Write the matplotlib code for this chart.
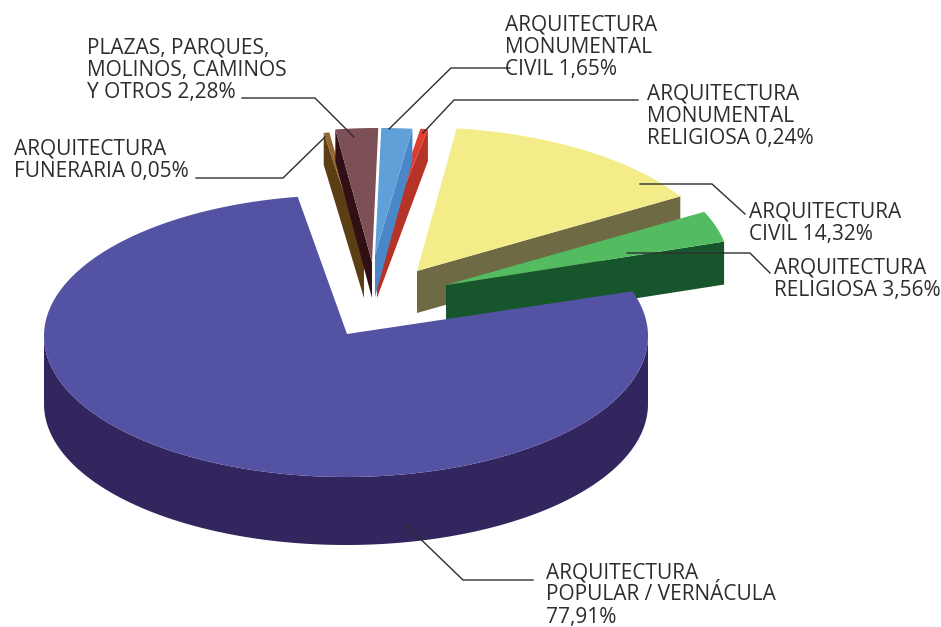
import numpy as np
import matplotlib
matplotlib.use("Agg")
import matplotlib.pyplot as plt

plt.rcParams['font.family'] = ['Open Sans', 'DejaVu Sans']

# slices, anticlockwise starting at the right edge of the big one
names = ["ARQUITECTURA\nRELIGIOSA", "ARQUITECTURA\nCIVIL", "ARQUITECTURA\nMONUMENTAL\nRELIGIOSA",
         "ARQUITECTURA\nMONUMENTAL\nCIVIL", "PLAZAS, PARQUES,\nMOLINOS, CAMINOS\nY OTROS",
         "ARQUITECTURA\nFUNERARIA", "ARQUITECTURA\nPOPULAR / VERNÁCULA\n"]
labelled = [3.56, 14.32, 0.24, 1.65, 2.28, 0.05, 77.91]
# the two tiniest are drawn wider than their printed value
drawn = [3.56, 14.32, 0.40, 1.65, 2.28, 0.30, 77.91]

top_colors = ["#53bc61", "#f3ec89", "#e23b30", "#60a0d8", "#7c5056", "#946530", "#5452a3"]
side_colors = ["#17562d", "#6e6a44", "#b53327", "#4a87c8", "#301015", "#5c3e15", "#33265f"]

# placement of each exploded slice, in pixels
apex_x = [446, 417, 377, 375, 372, 364, 347]
apex_y = [285, 271, 255, 255, 262, 253, 334]
arc_x = [446, 417, 389, 381, 378, 372, 346]
arc_y = [285, 271, 269, 269, 269, 272, 336]
scale_start = [0.971, 1.02, 1, 1, 1, 1, 1]
scale_end = [1.0, 1.02, 1, 1, 1, 1, 1]
depth_apex = [43, 42, 43, 42, 36, 45, 68]
depth_rim = [43, 42, 32, 32, 32, 32, 68]

label_x = [774, 749, 647, 505, 87, 14, 546]
label_y = [268, 212, 94, 25, 48, 149, 572.5]

leaders = [
    ([627, 750, 770], [253, 253, 273]),
    ([640, 712, 745], [184, 184, 214]),
    ([638, 454, 423], [100, 100, 133]),
    ([510, 451, 389], [68, 68, 129]),
    ([242, 315, 354], [98, 98, 137]),
    ([196, 283, 325], [178, 178, 137]),
    ([405, 463, 533], [524, 580, 580]),
]

RX, RY = 302, 141
START = 18.5

fig = plt.figure(figsize=(9.41, 6.27), dpi=100)
ax = fig.add_axes([0, 0, 1, 1])
ax.set_xlim(0, 941)
ax.set_ylim(627, 0)
ax.axis('off')

spans = np.array(drawn) * 360 / sum(drawn)
starts = START + np.concatenate([[0], np.cumsum(spans)[:-1]])


def rim(i, t0, t1, s0=1.0, s1=1.0):
    n = max(int(abs(t1 - t0)) * 2, 2)
    t = np.radians(np.linspace(t0, t1, n))
    s = np.linspace(s0, s1, n)
    return arc_x[i] + s * RX * np.cos(t), arc_y[i] - s * RY * np.sin(t)


def draw_slice(i):
    t0, t1 = starts[i], starts[i] + spans[i]
    if spans[i] > 180:
        # big slice, only the front of the wall shows
        x, y = rim(i, 180, 360)
        ax.fill(np.r_[x, x[::-1]], np.r_[y, y[::-1] + depth_rim[i]],
                color=side_colors[i], lw=0)
    else:
        if (t0 + t1) / 2 < 90:
            x, y = rim(i, t0, t0, scale_start[i], scale_start[i])
        else:
            x, y = rim(i, t1, t1, scale_end[i], scale_end[i])
        ax.fill([apex_x[i], x[0], x[0], apex_x[i]],
                [apex_y[i], y[0], y[0] + depth_rim[i], apex_y[i] + depth_apex[i]],
                color=side_colors[i], lw=0)
    x, y = rim(i, t0, t1, scale_start[i], scale_end[i])
    ax.fill(np.r_[apex_x[i], x], np.r_[apex_y[i], y], color=top_colors[i], lw=0)


for i in [5, 4, 2, 3, 1, 0, 6]:
    draw_slice(i)

for lx, ly in leaders:
    ax.plot(lx, ly, color="#2f2c2d", lw=1.0, solid_joinstyle='miter')

for i, name in enumerate(names):
    pct = f"{labelled[i]:.2f}".replace(".", ",") + "%"
    text = name + pct if name.endswith("\n") else name + " " + pct
    for j, line in enumerate(text.split("\n")):
        ax.text(label_x[i], label_y[i] + j * 22.3, line, fontsize=15.0,
                color="#2f2c2d", ha='left', va='center')

fig.savefig("out.png", dpi=100)
